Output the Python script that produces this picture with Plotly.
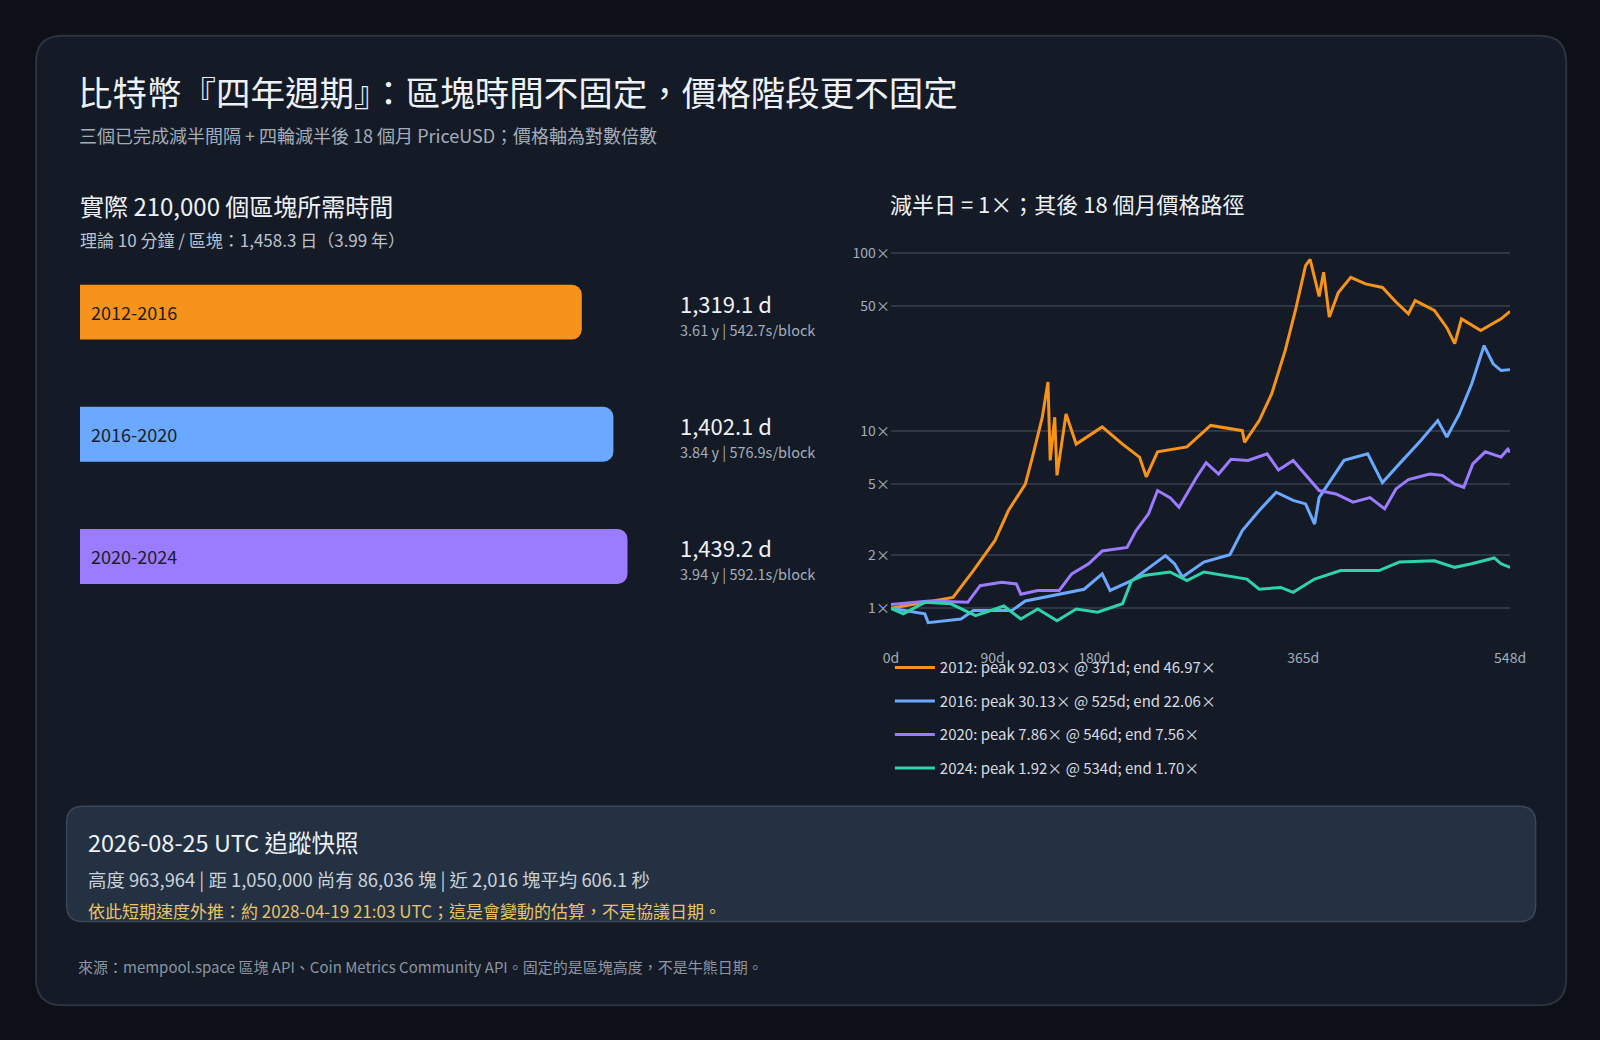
import plotly.graph_objects as go

W, H = 1600, 1040
RW, RH = 1568, 1019  # reference pixel space
FONT = "Noto Sans CJK TC, Noto Sans, sans-serif"

# ---- data ----
intervals = ["2012-2016", "2016-2020", "2020-2024"]
interval_days = [1319.1, 1402.1, 1439.2]
interval_years = [3.61, 3.84, 3.94]
interval_spb = [542.7, 576.9, 592.1]
bar_colors = ["#f7931a", "#6aa9ff", "#9b7bff"]

d2012 = [0, 55, 73, 92, 104, 119, 126, 134, 139, 141, 145, 147, 155, 164, 187, 205, 220, 226, 236, 262, 283, 311, 313, 326, 337, 349, 358, 367, 371, 379, 383, 388, 396, 407, 420, 435, 447, 458, 464, 481, 492, 499, 505, 522, 540, 548]
v2012 = [1.0, 1.15, 1.63, 2.4, 3.55, 5.0, 7.4, 11.9, 18.8, 6.8, 11.9, 5.6, 12.4, 8.4, 10.5, 8.4, 7.1, 5.5, 7.6, 8.1, 10.7, 10.0, 8.6, 11.4, 16.1, 28.3, 47.5, 85, 92.03, 57, 78, 43.6, 60, 73, 67, 64, 53, 45.5, 54, 47.5, 38, 30.9, 42.6, 36.6, 42.6, 46.97]
d2016 = [0, 30, 33, 62, 73, 107, 119, 149, 171, 187, 194, 213, 243, 251, 258, 277, 300, 311, 326, 341, 356, 367, 375, 379, 401, 422, 435, 450, 469, 484, 492, 503, 514, 525, 533, 540, 548]
v2016 = [1.0, 0.93, 0.83, 0.87, 0.97, 0.97, 1.1, 1.2, 1.28, 1.56, 1.26, 1.43, 1.98, 1.78, 1.5, 1.82, 2.0, 2.74, 3.55, 4.5, 4.05, 3.87, 2.98, 4.2, 6.8, 7.4, 5.1, 6.5, 8.8, 11.4, 9.2, 12.4, 18.3, 30.13, 23.8, 21.8, 22.06]
d2020 = [0, 34, 68, 79, 98, 111, 115, 130, 149, 160, 175, 187, 209, 217, 228, 236, 247, 255, 270, 279, 290, 301, 316, 333, 343, 356, 379, 394, 409, 424, 437, 447, 458, 477, 488, 499, 507, 515, 526, 540, 546, 548]
v2020 = [1.05, 1.1, 1.08, 1.34, 1.4, 1.37, 1.2, 1.26, 1.26, 1.56, 1.78, 2.1, 2.2, 2.74, 3.4, 4.6, 4.2, 3.7, 5.4, 6.6, 5.7, 6.9, 6.8, 7.4, 6.0, 6.8, 4.6, 4.4, 3.96, 4.2, 3.63, 4.7, 5.3, 5.7, 5.6, 5.0, 4.8, 6.5, 7.6, 7.1, 7.86, 7.56]
d2024 = [0, 11, 30, 53, 75, 100, 115, 130, 147, 164, 183, 205, 213, 224, 247, 262, 277, 303, 315, 326, 345, 356, 375, 398, 432, 450, 481, 499, 514, 534, 540, 548]
v2024 = [1.0, 0.93, 1.08, 1.06, 0.91, 1.03, 0.87, 0.99, 0.85, 0.99, 0.95, 1.06, 1.43, 1.53, 1.6, 1.43, 1.6, 1.5, 1.46, 1.28, 1.31, 1.23, 1.46, 1.63, 1.63, 1.82, 1.85, 1.7, 1.78, 1.92, 1.78, 1.70]
series = [
    ("2012: peak 92.03× @ 371d; end 46.97×", d2012, v2012, "#f7931a"),
    ("2016: peak 30.13× @ 525d; end 22.06×", d2016, v2016, "#6aa9ff"),
    ("2020: peak 7.86× @ 546d; end 7.56×", d2020, v2020, "#9b7bff"),
    ("2024: peak 1.92× @ 534d; end 1.70×", d2024, v2024, "#2fd3a9"),
]
xticks = [0, 90, 180, 365, 548]
xticklabels = ["0d", "90d", "180d", "365d", "548d"]
yticks = [1, 2, 5, 10, 50, 100]
yticklabels = ["1×", "2×", "5×", "10×", "50×", "100×"]

def px(x): return ((x - 7.5) / 0.9853) / RW
def py(y): return 1 - y / RH

def rrect(x0, y0, x1, y1, r):
    X = lambda v: px(v); Y = lambda v: py(v)
    return (f"M {X(x0+r)} {Y(y0)} L {X(x1-r)} {Y(y0)} Q {X(x1)} {Y(y0)} {X(x1)} {Y(y0+r)} "
            f"L {X(x1)} {Y(y1-r)} Q {X(x1)} {Y(y1)} {X(x1-r)} {Y(y1)} L {X(x0+r)} {Y(y1)} "
            f"Q {X(x0)} {Y(y1)} {X(x0)} {Y(y1-r)} L {X(x0)} {Y(y0+r)} Q {X(x0)} {Y(y0)} {X(x0+r)} {Y(y0)} Z")

fig = go.Figure()

bar_px_per_day = (570 - 78) / 1319.1
bx0, bx1 = 78, 640
fig.add_trace(go.Bar(
    x=interval_days, y=intervals, orientation="h",
    marker=dict(color=bar_colors, cornerradius=10, line=dict(width=0)),
    text=["  " + s for s in intervals], textposition="inside", insidetextanchor="start",
    textfont=dict(color="#1b1f27", size=18, family=FONT),
    width=0.45, xaxis="x2", yaxis="y2", showlegend=False, hoverinfo="skip"))

for i, (nm, d, v, c) in enumerate(series):
    fig.add_trace(go.Scatter(x=d, y=v, mode="lines", name=nm, legendgroup=str(i),
                             line=dict(color=c, width=3), xaxis="x", yaxis="y"))

lx0, lx1 = 873, 1480
ly0, ly1 = 230, 625
fig.update_layout(
    width=W, height=H, margin=dict(l=0, r=0, t=0, b=0),
    paper_bgcolor="#0d1117", plot_bgcolor="rgba(0,0,0,0)",
    font=dict(family=FONT, color="#e6edf3"),
    xaxis=dict(domain=[px(lx0), px(lx1)], range=[0, 548], tickvals=xticks, ticktext=xticklabels,
               showgrid=False, zeroline=False, showline=False, tickfont=dict(size=14, color="#a3adba"),
               anchor="y", ticks="", ticklabelstandoff=10),
    yaxis=dict(domain=[py(ly1), py(ly0)], type="log", range=[-0.1667, 2.103],
               tickvals=yticks, ticktext=yticklabels, gridcolor="#2e3644", gridwidth=1.5,
               zeroline=False, showline=False, tickfont=dict(size=14, color="#a3adba"), anchor="x"),
    xaxis2=dict(domain=[px(bx0), px(bx1)], range=[0, (bx1 - bx0) / bar_px_per_day], visible=False, anchor="y2"),
    yaxis2=dict(domain=[py(605), py(246)], range=[2.5, -0.5], visible=False, anchor="x2"),
    legend=dict(x=px(872), y=py(638), xanchor="left", yanchor="top", bgcolor="rgba(0,0,0,0)",
                font=dict(size=15, color="#d5dbe3"), tracegroupgap=11, itemwidth=40, traceorder="grouped"),
    bargap=0.5,
)

shapes = [
    dict(type="path", path=rrect(35, 35, 1535, 985, 26), xref="paper", yref="paper",
         fillcolor="#151b26", line=dict(color="#2b3342", width=2), layer="below"),
    dict(type="path", path=rrect(65, 790, 1505, 903, 16), xref="paper", yref="paper",
         fillcolor="#243142", line=dict(color="#3a4759", width=1.5), layer="below"),
]
fig.update_layout(shapes=shapes)

def ann(x, y, text, size, color, anchor="left"):
    fig.add_annotation(x=px(x), y=py(y), xref="paper", yref="paper", text=text, showarrow=False,
                       xanchor=anchor, yanchor="middle", font=dict(size=size, color=color, family=FONT))

ann(74, 89, "比特幣『四年週期』：區塊時間不固定，價格階段更不固定", 34.5, "#eef2f6")
ann(75, 132, "三個已完成減半間隔 + 四輪減半後 18 個月 PriceUSD；價格軸為對數倍數", 18, "#a3adba")
ann(76, 201, "實際 210,000 個區塊所需時間", 24, "#eef2f6")
ann(76, 235, "理論 10 分鐘 / 區塊：1,458.3 日（3.99 年）", 17, "#b9c2cd")
ann(870, 199, "減半日 = 1×；其後 18 個月價格路徑", 22, "#eef2f6")
for i, yc in enumerate([306, 425, 545]):
    ann(664, yc - 9, f"{interval_days[i]:,.1f} d", 22, "#eef2f6")
    ann(664, yc + 17, f"{interval_years[i]:.2f} y | {interval_spb[i]}s/block", 14.5, "#a3adba")
ann(84, 825, "2026-08-25 UTC 追蹤快照", 23.5, "#eef2f6")
ann(84, 861, "高度 963,964 | 距 1,050,000 尚有 86,036 塊 | 近 2,016 塊平均 606.1 秒", 18.4, "#c9d1db")
ann(84, 892, "依此短期速度外推：約 2028-04-19 21:03 UTC；這是會變動的估算，不是協議日期。", 17, "#e8c36a")
ann(74, 947, "來源：mempool.space 區塊 API、Coin Metrics Community API。固定的是區塊高度，不是牛熊日期。", 15, "#8b95a3")

fig.write_html("out.html", config={"displayModeBar": False},
               post_script="document.body.style.margin='0';document.body.style.overflow='hidden';document.body.style.background='#0d1117';")
